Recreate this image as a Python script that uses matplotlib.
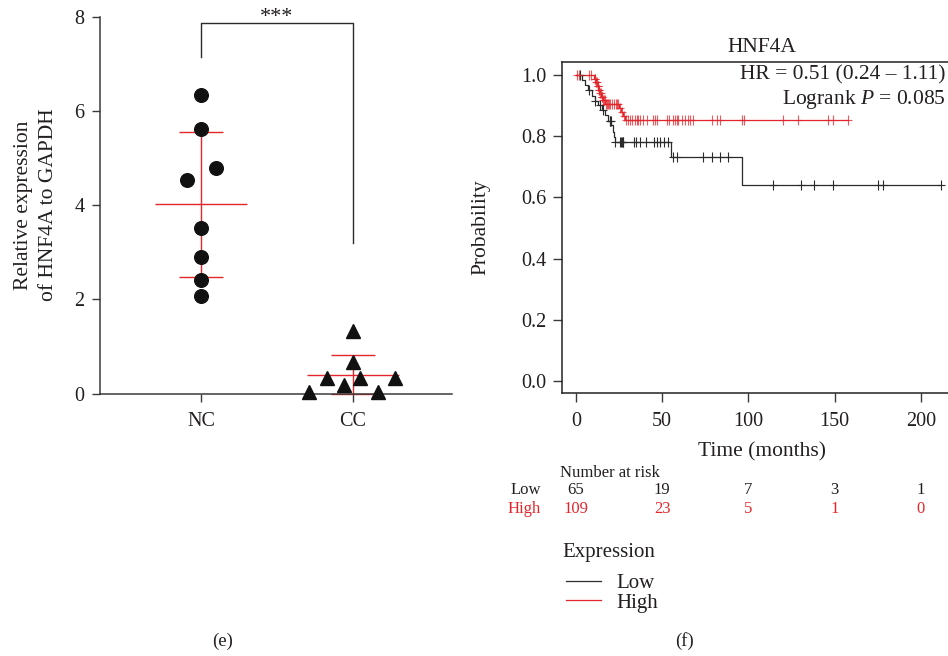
import numpy as np
import matplotlib
matplotlib.use('Agg')
import matplotlib.pyplot as plt
import matplotlib.transforms as mtransforms

plt.rcParams['font.family'] = ['Liberation Serif', 'DejaVu Serif']
plt.rcParams['mathtext.fontset'] = 'custom'
plt.rcParams['mathtext.rm'] = 'Liberation Serif'
plt.rcParams['mathtext.it'] = 'Liberation Serif:italic'

# ---- panel (e): relative expression ----
groups = ["NC", "CC"]
nc_values = [6.33, 5.61, 4.80, 4.54, 3.52, 2.90, 2.42, 2.08]
nc_offsets = [0.0, 0.0, 0.10, -0.095, 0.0, 0.0, 0.0, 0.0]
cc_values = [1.32, 0.67, 0.33, 0.33, 0.33, 0.19, 0.04, 0.04]
cc_offsets = [0.0, 0.0, -0.17, 0.046, 0.276, -0.06, -0.29, 0.165]
y_ticks_e = [0, 2, 4, 6, 8]

# ---- panel (f): Kaplan-Meier ----
low_step_t = [0, 3.5, 5.5, 7.0, 9.0, 11.0, 13.0, 15.0, 17.0, 18.5, 20.5, 21.5, 22.0, 22.5, 55.1, 96.1]
low_step_s = [1.0, 0.983, 0.966, 0.949, 0.932, 0.916, 0.900, 0.885, 0.870, 0.850, 0.835, 0.815, 0.798, 0.780, 0.731, 0.641]
low_end = 212
low_censor = [2.3, 7.7, 11.0, 13.9, 15.5, 19.7, 20.0, 20.3, 22.8, 25.5, 26.0, 26.5, 27.0, 27.4,
              33.6, 34.8, 37.1, 40.6, 45.2, 46.8, 48.7, 51.0, 53.5, 56.5, 58.8, 73.8, 78.7,
              83.5, 88.4, 114.5, 130.5, 138.2, 149.3, 175.3, 178.2, 212]

high_step_t = [0, 10.5, 11.5, 12.3, 13.0, 13.8, 14.6, 15.5, 17.0, 25.0, 26.2, 27.3, 28.5]
high_step_s = [1.0, 0.988, 0.976, 0.964, 0.952, 0.940, 0.929, 0.917, 0.905, 0.892, 0.879, 0.866, 0.852]
high_end = 158
high_censor = [0.5, 2.0, 7.7, 8.5, 10.8, 11.2, 11.8, 12.0, 12.6, 12.8, 13.3, 13.5, 14.0, 14.3,
               14.9, 15.2, 15.8, 16.2, 16.8, 17.3, 17.8, 18.5, 19.2, 20.0, 21.0, 22.0, 23.0,
               23.8, 24.5, 25.5, 26.5, 27.8, 29.0, 30.3, 31.3, 32.3, 34.2, 35.5, 36.2, 37.1,
               39.0, 41.4, 44.8, 45.8, 47.2, 52.6, 54.1, 56.5, 57.4, 58.4, 59.3, 61.3, 63.2,
               65.1, 66.1, 67.7, 78.7, 81.6, 83.5, 96.1, 97.4, 119.9, 129.0, 146.0, 148.9, 158.0]

risk_times = [0, 50, 100, 150, 200]
risk_low = [65, 19, 7, 3, 1]
risk_high = [109, 23, 5, 1, 0]
x_ticks_f = [0, 50, 100, 150, 200]
y_ticks_f = [0.0, 0.2, 0.4, 0.6, 0.8, 1.0]

RED = "#e3262b"
DARK = "#2b2b2b"
TXT = "#231f20"

W, H = 948, 656
fig = plt.figure(figsize=(W / 100, H / 100), dpi=100)


def fx(px):
    return px / W


def fy(py):
    return 1 - py / H


# ---------------- panel (e) ----------------
ax1 = fig.add_axes([fx(100), fy(393.7), fx(452) - fx(100), fy(16.7) - fy(393.7)])
ax1.set_xlim(-0.664, 1.651)
ax1.set_ylim(0, 8)

for i, (vals, offs) in enumerate([(nc_values, nc_offsets), (cc_values, cc_offsets)]):
    vals = np.array(vals)
    m, sd = vals.mean(), vals.std(ddof=1)
    ax1.hlines(m, i - 0.3, i + 0.3, color=RED, lw=1.0, zorder=2)
    ax1.hlines([m - sd, m + sd], i - 0.145, i + 0.145, color=RED, lw=1.0, zorder=2, clip_on=False)
    ax1.vlines(i, max(m - sd, 0), m + sd, color=RED, lw=1.0, zorder=2)
    xs = i + np.array(offs)
    marker = 'o' if i == 0 else '^'
    ax1.plot(xs, vals, linestyle='none', marker=marker, ms=9.8, color='#111111',
             zorder=3, clip_on=False)

# significance bracket
ax1.plot([0, 0, 1, 1], [7.14, 7.87, 7.87, 3.2], color=DARK, lw=1.0, clip_on=False)
ax1.text(0.5, 7.98, "***", ha='center', va='center', fontsize=16, color=TXT)

ax1.spines['top'].set_visible(False)
ax1.spines['right'].set_visible(False)
for s in ['left', 'bottom']:
    ax1.spines[s].set_color('#3a3a3a')
    ax1.spines[s].set_linewidth(1.1)
ax1.set_xticks([0, 1])
ax1.set_xticklabels(groups)
ax1.set_yticks(y_ticks_e)
ax1.tick_params(direction='out', length=6, width=1.0, colors='#3a3a3a',
                labelcolor=TXT, labelsize=14.5, pad=5)
ax1.tick_params(axis='x', pad=7)
fig.text(fx(36), fy(205), "Relative expression\nof HNF4A to GAPDH", rotation=90,
         ha='center', va='center', fontsize=15.5, color=TXT, linespacing=1.4)

# ---------------- panel (f) ----------------
ax2 = fig.add_axes([fx(562), fy(393), fx(962) - fx(562), fy(62) - fy(393)])
ax2.set_xlim(-8.12, 223.9)
ax2.set_ylim(-0.039, 1.042)


def km_at(step_t, step_s, t):
    idx = np.searchsorted(step_t, t, side='right') - 1
    return np.array(step_s)[idx]


lines = {}
for name, st, ss, end, cens, col, alpha in [
        ("Low", low_step_t, low_step_s, low_end, low_censor, DARK, 1.0),
        ("High", high_step_t, high_step_s, high_end, high_censor, RED, 0.75)]:
    tt = list(st) + [end]
    sv = list(ss) + [ss[-1]]
    ln, = ax2.step(tt, sv, where='post', color=col, lw=0.9, zorder=3)
    lines[name] = ln
    cy = km_at(st, ss, np.array(cens))
    ax2.plot(cens, cy, linestyle='none', marker='|', ms=6.5, mew=0.8, color=col,
             alpha=alpha, zorder=4)
    ax2.plot(cens, cy, linestyle='none', marker='_', ms=6, mew=0.8, color=col,
             alpha=alpha, zorder=4)

ax2.set_xticks(x_ticks_f)
ax2.set_yticks(y_ticks_f)
ax2.set_yticklabels([f"{v:.1f}" for v in y_ticks_f])
for s in ax2.spines.values():
    s.set_color('#222222')
    s.set_linewidth(1.1)
ax2.tick_params(direction='out', length=6.5, width=1.0, colors='#3a3a3a',
                labelcolor=TXT, labelsize=14.5, pad=5)
ax2.tick_params(axis='x', pad=7)
ax2.set_title("HNF4A", fontsize=15.5, color=TXT, pad=7)
ax2.set_xlabel("Time (months)", fontsize=15.5, color=TXT, labelpad=8)
ax2.set_ylabel("Probability", fontsize=15.5, color=TXT)
ax2.yaxis.set_label_coords((490 - 562) / 400, 0.5)

ax2.text(214.6, 1.0, "HR = 0.51 (0.24 \u2013 1.11)", ha='right', va='center',
         fontsize=15.5, color=TXT)
ax2.text(214.6, 0.918, "Logrank $P$ = 0.085", ha='right', va='center',
         fontsize=15.5, color=TXT)

# number at risk table
trans = mtransforms.blended_transform_factory(ax2.transData, fig.transFigure)
fig.text(fx(560), fy(473), "Number at risk", ha='left', va='center', fontsize=12, color=TXT)
fig.text(fx(541), fy(490), "Low", ha='right', va='center', fontsize=12, color=TXT)
fig.text(fx(541), fy(509), "High", ha='right', va='center', fontsize=12, color=RED)
for t, nl, nh in zip(risk_times, risk_low, risk_high):
    ax2.text(t, fy(490), str(nl), transform=trans, ha='center', va='center',
             fontsize=12, color=TXT, clip_on=False)
    ax2.text(t, fy(509), str(nh), transform=trans, ha='center', va='center',
             fontsize=12, color=RED, clip_on=False)

# legend
fig.text(fx(562), fy(553), "Expression", ha='left', va='center', fontsize=15, color=TXT)
leg = fig.legend([lines["Low"], lines["High"]], ["Low", "High"],
                 loc='center left', bbox_to_anchor=(fx(566), fy(593)), frameon=False,
                 fontsize=15, handlelength=1.7, handletextpad=0.7, labelspacing=0.0,
                 borderpad=0, borderaxespad=0)
for txt in leg.get_texts():
    txt.set_color(TXT)

fig.text(fx(223), fy(641), "(e)", ha='center', va='center', fontsize=13.5, color=TXT)
fig.text(fx(684), fy(641), "(f)", ha='center', va='center', fontsize=13.5, color=TXT)

fig.savefig("out.png", dpi=100)
